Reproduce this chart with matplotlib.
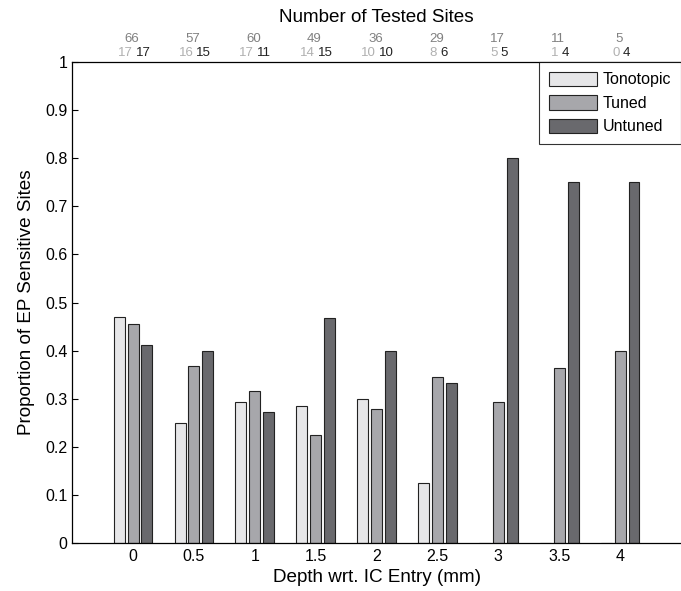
import numpy as np
import matplotlib
matplotlib.use("Agg")
import matplotlib.pyplot as plt
from matplotlib.ticker import FuncFormatter

plt.rcParams['font.family'] = ['Liberation Sans', 'DejaVu Sans']

depth = [0, 0.5, 1, 1.5, 2, 2.5, 3, 3.5, 4]
tonotopic = [0.471, 0.25, 0.294, 0.286, 0.30, 0.125, 0.0, 0.0, 0.0]
tuned = [0.455, 0.368, 0.317, 0.224, 0.278, 0.345, 0.294, 0.364, 0.40]
untuned = [0.412, 0.40, 0.273, 0.467, 0.40, 0.333, 0.80, 0.75, 0.75]

n_total = [66, 57, 60, 49, 36, 29, 17, 11, 5]
n_tonotopic = [17, 16, 17, 14, 10, 8, 5, 1, 0]
n_untuned = [17, 15, 11, 15, 10, 6, 5, 4, 4]

colors = ['#e6e6e8', '#a7a7ab', '#69696d']
names = ['Tonotopic', 'Tuned', 'Untuned']

fig = plt.figure(figsize=(6.81, 5.91), dpi=100)
ax = fig.add_axes([0.106, 0.081, 0.894, 0.814])

x = np.array(depth)
w = 0.09
step = 0.114
for i, (vals, c, nm) in enumerate(zip([tonotopic, tuned, untuned], colors, names)):
    ax.bar(x + (i - 1) * step, vals, width=w, color=c, edgecolor='#222222',
           linewidth=0.8, label=nm)

ax.set_xlim(-0.5, 4.5)
ax.set_ylim(0, 1)
ax.set_xticks(depth)
ax.xaxis.set_major_formatter(FuncFormatter(lambda v, p: '%g' % v))
ax.set_yticks(np.arange(0, 1.01, 0.1))
ax.yaxis.set_major_formatter(FuncFormatter(lambda v, p: '%g' % round(v, 1)))
ax.tick_params(axis='both', direction='in', labelsize=11.5, length=4, width=0.8)
ax.tick_params(axis='x', length=0, pad=4)
ax.spines['right'].set_visible(False)
for s in ['left', 'top', 'bottom']:
    ax.spines[s].set_linewidth(0.9)

ax.set_xlabel('Depth wrt. IC Entry (mm)', fontsize=13.6, labelpad=4)
ax.set_ylabel('Proportion of EP Sensitive Sites', fontsize=13.6, labelpad=7)

# counts above the axes
for d, nt, nl, nu in zip(depth, n_total, n_tonotopic, n_untuned):
    ax.text(d - 0.01, 1.035, str(nt), ha='center', va='bottom', fontsize=9.5,
            color='#808080', transform=ax.get_xaxis_transform())
    ax.text(d - 0.005, 1.006, str(nl), ha='right', va='bottom', fontsize=9.5,
            color='#b0b0b0', transform=ax.get_xaxis_transform())
    ax.text(d + 0.02, 1.006, str(nu), ha='left', va='bottom', fontsize=9.5,
            color='#222222', transform=ax.get_xaxis_transform())
ax.text(0.5, 1.075, 'Number of Tested Sites', ha='center', va='bottom',
        fontsize=13.6, transform=ax.transAxes)

leg = ax.legend(loc='upper right', fontsize=11.5, frameon=True, fancybox=False,
                edgecolor='black', handlelength=3.0, handleheight=1.0,
                borderaxespad=0.0, labelspacing=0.5, borderpad=0.6,
                handletextpad=0.4)
leg.get_frame().set_linewidth(0.8)

fig.savefig('out.png', dpi=100)
